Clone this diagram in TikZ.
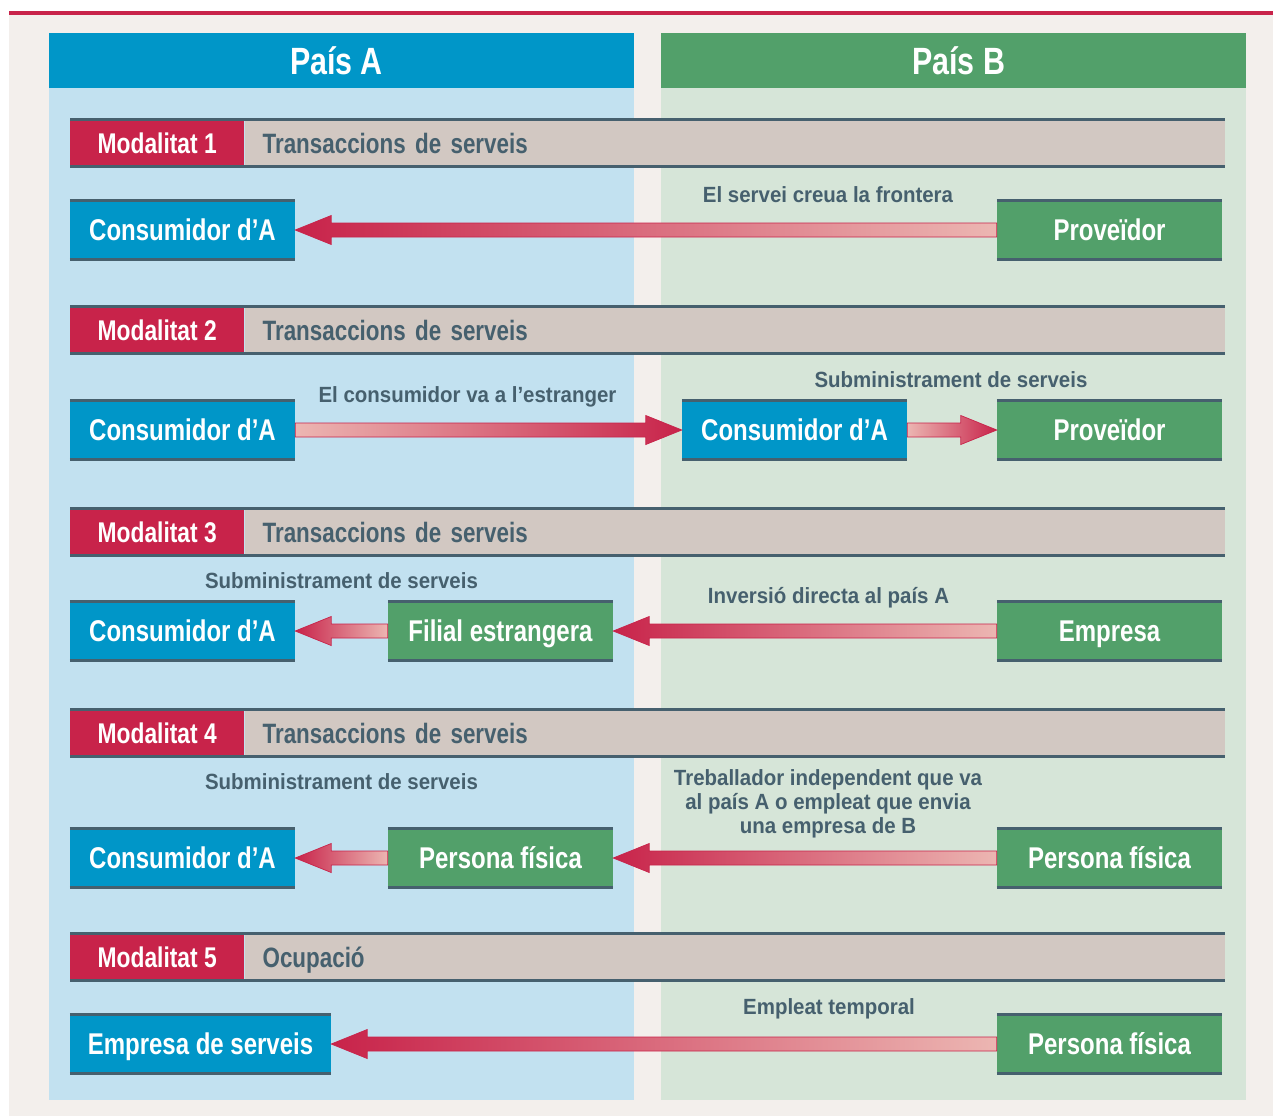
\documentclass[tikz,border=0pt]{standalone}
\usepackage{fontspec}
\setmainfont{Liberation Sans}
\newfontfamily\estreta{Liberation Sans}[FakeStretch=0.8]
\newfontfamily\mitjana{Liberation Sans}[FakeStretch=0.93]
\usetikzlibrary{calc}

\definecolor{blauA}{RGB}{0,150,200}
\definecolor{blauclar}{RGB}{194,225,240}
\definecolor{verdB}{RGB}{82,160,106}
\definecolor{verdclar}{RGB}{214,229,216}
\definecolor{vermell}{RGB}{200,35,74}
\definecolor{rosa}{RGB}{236,182,178}
\definecolor{gris}{RGB}{210,200,194}
\definecolor{pissarra}{RGB}{70,96,110}
\definecolor{fons}{RGB}{243,239,236}

\tikzset{
	vora/.style={draw=pissarra, line width=3pt},
	caixa/.style={inner sep=0pt, minimum height=58pt, minimum width=225pt, text=white,
		font={\estreta\bfseries\fontsize{30}{36}\selectfont}, text height=21.5pt, text depth=0pt,
		append after command={(\tikzlastnode.north west) edge[vora] (\tikzlastnode.north east)
			(\tikzlastnode.south west) edge[vora] (\tikzlastnode.south east)}},
	caixaA/.style={caixa, fill=blauA},
	caixaB/.style={caixa, fill=verdB},
	capcal/.style={inner sep=0pt, text=white,
		font={\estreta\bfseries\fontsize{38}{44}\selectfont}, text height=27pt, text depth=0pt},
	modal/.style={fill=vermell, text=white, inner sep=0pt, minimum height=46pt, minimum width=174pt,
		font={\estreta\bfseries\fontsize{28.5}{34}\selectfont}, text height=20.5pt, text depth=0pt},
	tipus/.style={fill=gris, text=pissarra, inner sep=0pt, inner xsep=18pt, minimum height=46pt,
		text width=944pt, align=left,
		font={\estreta\bfseries\fontsize{28}{34}\selectfont}, text height=20.5pt, text depth=0pt},
	etiq/.style={text=pissarra, inner sep=0pt, align=center,
		font={\mitjana\bfseries\fontsize{22}{24}\selectfont}},
	capE/.style={left color=rosa, right color=vermell},
	capW/.style={left color=vermell, right color=rosa}
}

% tail, tip, x offset of the head base, shading
\newcommand{\fletxa}[4]{%
	\path[draw=vermell, line width=0.7pt, #4]
	($(#1)+(0,-7)$) -- ($(#2)+(#3,-7)$) -- ($(#2)+(#3,-14.5)$) -- (#2)
	-- ($(#2)+(#3,14.5)$) -- ($(#2)+(#3,7)$) -- ($(#1)+(0,7)$) -- cycle;
}

\begin{document}
\begin{tikzpicture}[x=1pt, y=-1pt]
		\useasboundingbox (0,0) rectangle (1273,1116);
		\fill[white] (0,0) rectangle (1273,1116);
		\fill[fons] (9,15) rectangle (1273,1116);
		\fill[vermell] (9,11.5) rectangle (1273,15);
		
		% the two countries
		\fill[blauclar] (49,88) rectangle (634,1100);
		\fill[verdclar] (661,88) rectangle (1246,1100);
		\fill[blauA] (49,33) rectangle (634,88);
		\fill[verdB] (661,33) rectangle (1246,88);
		\node[capcal] (paisA) at (336.5,61) {País A};
		\node[capcal] (paisB) at (958.5,61) {País B};
		
		% mode bars
		\foreach \n/\y/\t in {1/143/Transaccions de serveis, 2/330/Transaccions de serveis,
			3/532/Transaccions de serveis, 4/733/Transaccions de serveis, 5/957/Ocupació}{
			\node[modal, anchor=west] (mod\n) at (70,\y) {Modalitat \n};
			\node[tipus, anchor=west] (tip\n) at (mod\n.east) {\t};
			\draw[vora] (mod\n.north west) -- (tip\n.north east);
			\draw[vora] (mod\n.south west) -- (tip\n.south east);
		}
		
		% mode 1
		\node[caixaA] (cons1) at (182.5,230) {Consumidor d’A};
		\node[caixaB] (prov1) at (1109.5,230) {Proveïdor};
		\node[etiq] (et1) at (828,195) {El servei creua la frontera};
		\fletxa{prov1.west}{cons1.east}{36}{capW}
		
		% mode 2
		\node[caixaA] (cons2) at (182.5,430) {Consumidor d’A};
		\node[caixaA] (consB2) at (794.5,430) {Consumidor d’A};
		\node[caixaB] (prov2) at (1109.5,430) {Proveïdor};
		\node[etiq] (et2a) at (467.5,397) {El consumidor va a l’estranger};
		\node[etiq] (et2b) at (951,380) {Subministrament de serveis};
		\fletxa{cons2.east}{consB2.west}{-36}{capE}
		\fletxa{consB2.east}{prov2.west}{-36}{capE}
		
		% mode 3
		\node[caixaA] (cons3) at (182.5,631) {Consumidor d’A};
		\node[caixaB] (filial) at (500.5,631) {Filial estrangera};
		\node[caixaB] (empr3) at (1109.5,631) {Empresa};
		\node[etiq] (et3a) at (341.5,581) {Subministrament de serveis};
		\node[etiq] (et3b) at (828.5,598) {Inversió directa al país A};
		\fletxa{filial.west}{cons3.east}{36}{capW}
		\fletxa{empr3.west}{filial.east}{36}{capW}
		
		% mode 4
		\node[caixaA] (cons4) at (182.5,858) {Consumidor d’A};
		\node[caixaB] (pers4a) at (500.5,858) {Persona física};
		\node[caixaB] (pers4b) at (1109.5,858) {Persona física};
		\node[etiq] (et4a) at (341.5,782) {Subministrament de serveis};
		\node[etiq] (et4b) at (828,804) {Treballador independent que va\\al país A o empleat que envia\\una empresa de B};
		\fletxa{pers4a.west}{cons4.east}{36}{capW}
		\fletxa{pers4b.west}{pers4a.east}{36}{capW}
		
		% mode 5
		\node[caixaA, minimum width=261pt] (empr5) at (200.5,1044) {Empresa de serveis};
		\node[caixaB] (pers5) at (1109.5,1044) {Persona física};
		\node[etiq] (et5) at (829,1009) {Empleat temporal};
		\fletxa{pers5.west}{empr5.east}{36}{capW}
\end{tikzpicture}
\end{document}
